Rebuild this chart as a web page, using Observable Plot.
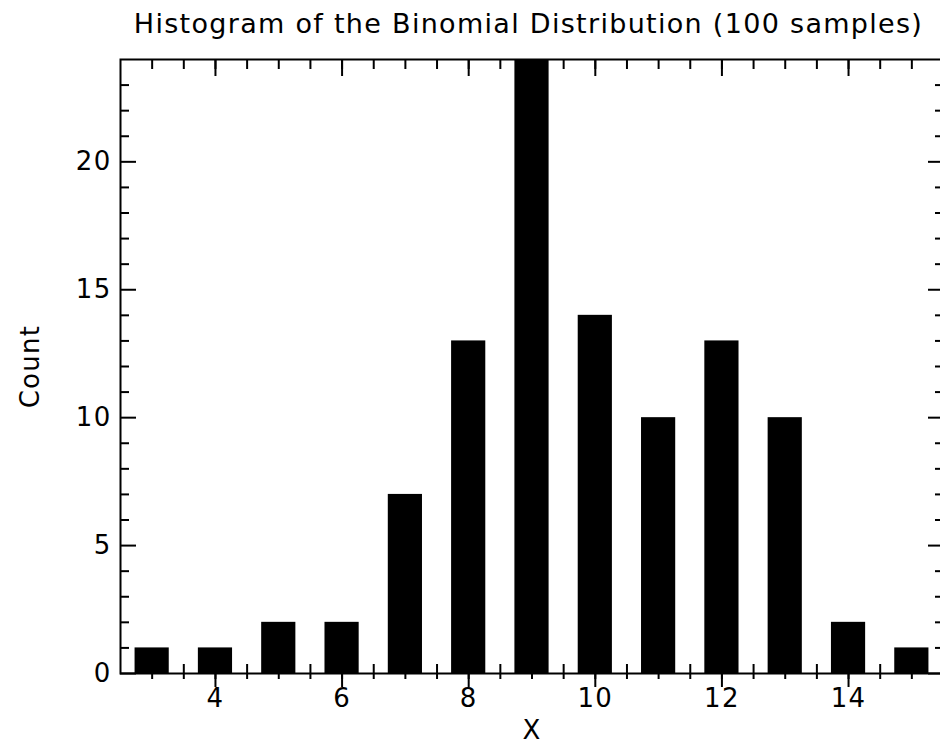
<!DOCTYPE html>
<html>
<head>
<meta charset="utf-8">
<script src="https://cdn.jsdelivr.net/npm/d3@7"></script>
<script src="https://cdn.jsdelivr.net/npm/@observablehq/plot@0.6"></script>
<style>
  html, body { margin: 0; padding: 0; background: #fff; overflow: hidden; width: 940px; height: 744px; }
  #chart { position: absolute; left: 0; top: 0; width: 940px; height: 744px; overflow: hidden; }
</style>
</head>
<body>
<div id="chart"></div>
<script>
// Data
const xValues = [3, 4, 5, 6, 7, 8, 9, 10, 11, 12, 13, 14, 15];
const counts  = [1, 1, 2, 2, 7, 13, 24, 14, 10, 13, 10, 2, 1];

// Tick values
const xMajorTicks = [4, 6, 8, 10, 12, 14];
const xMinorTicks = [3, 3.5, 4, 4.5, 5, 5.5, 6, 6.5, 7, 7.5, 8, 8.5, 9, 9.5, 10, 10.5, 11, 11.5, 12, 12.5, 13, 13.5, 14, 14.5, 15];
const yMajorTicks = [0, 5, 10, 15, 20];
const yMinorTicks = [1, 2, 3, 4, 6, 7, 8, 9, 11, 12, 13, 14, 16, 17, 18, 19, 21, 22, 23];

const titleText = "Histogram of the Binomial Distribution (100 samples)";
const xLabel = "X";
const yLabel = "Count";

const data = xValues.map((x, i) => ({x, count: counts[i]}));
const halfBar = 0.27;
const font = "'DejaVu Sans', sans-serif";
const none = () => "";

const plot = Plot.plot({
  width: 940,
  height: 744,
  marginLeft: 120,
  marginRight: -3,
  marginTop: 59,
  marginBottom: 71,
  style: {fontFamily: font, fontSize: "26px", letterSpacing: "1.3px", color: "black", background: "white"},
  x: {domain: [2.5, 15.5], axis: null},
  y: {domain: [0, 24], axis: null},
  marks: [
    Plot.rectY(data, {x1: d => d.x - halfBar, x2: d => d.x + halfBar, y: "count", fill: "black"}),
    // top axis ticks (inward)
    Plot.axisX({anchor: "top", ticks: xMinorTicks, tickSize: -9, tickFormat: none, strokeWidth: 2, label: null}),
    Plot.axisX({anchor: "top", ticks: xMajorTicks, tickSize: -16, tickFormat: none, strokeWidth: 2, label: null}),
    // bottom axis ticks (crossing)
    Plot.axisX({anchor: "bottom", ticks: xMinorTicks, tickSize: -9, tickFormat: none, strokeWidth: 2, label: null}),
    Plot.axisX({anchor: "bottom", ticks: xMinorTicks, tickSize: 6, tickFormat: none, strokeWidth: 2, label: null}),
    Plot.axisX({anchor: "bottom", ticks: xMajorTicks, tickSize: 14, tickFormat: none, strokeWidth: 2, label: null}),
    Plot.axisX({anchor: "bottom", ticks: xMajorTicks, tickSize: 0, tickPadding: 15, tickFormat: d => String(d), fontSize: 26, label: null}),
    // left axis
    Plot.axisY({anchor: "left", ticks: yMinorTicks, tickSize: -9, tickFormat: none, strokeWidth: 2, label: null}),
    Plot.axisY({anchor: "left", ticks: yMajorTicks, tickSize: -16, tickFormat: none, strokeWidth: 2, label: null}),
    Plot.axisY({anchor: "left", ticks: yMajorTicks, tickSize: 0, tickPadding: 9, tickFormat: d => String(d), fontSize: 26, label: null}),
    // right axis
    Plot.axisY({anchor: "right", ticks: yMinorTicks, tickSize: -9, tickFormat: none, strokeWidth: 2, label: null}),
    Plot.axisY({anchor: "right", ticks: yMajorTicks, tickSize: -16, tickFormat: none, strokeWidth: 2, label: null}),
    Plot.frame({stroke: "black", strokeWidth: 2}),
    // titles
    Plot.text([titleText], {frameAnchor: "top", text: d => d, dy: -27, dx: -3.5, lineAnchor: "bottom", fontSize: 27}),
    Plot.text([xLabel], {frameAnchor: "bottom", text: d => d, dy: 65, lineAnchor: "bottom", fontSize: 26}),
    Plot.text([yLabel], {frameAnchor: "left", text: d => d, dx: -82, rotate: -90, lineAnchor: "bottom", textAnchor: "middle", fontSize: 26})
  ]
});
document.getElementById("chart").appendChild(plot);
</script>
</body>
</html>
